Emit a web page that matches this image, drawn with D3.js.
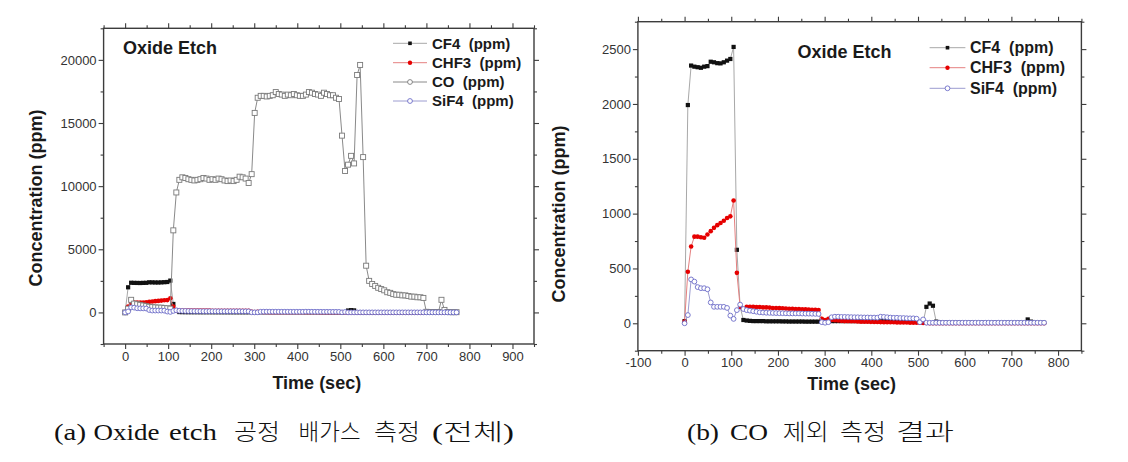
<!DOCTYPE html>
<html><head><meta charset="utf-8">
<script src="https://cdn.jsdelivr.net/npm/d3@7"></script>
<style>body{margin:0;background:#fff}svg{display:block}</style>
</head><body>
<svg id="c" width="1128" height="462"></svg>
<script>
// ---------- data ----------
const times = [0,7,14,21,28,35,42,49,56,63,
70,77,84,91,98,105,112,119,126,133,
140,147,154,161,168,175,182,189,196,203,
210,217,224,231,238,245,252,259,266,273,
280,287,294,301,308,315,322,329,336,343,
350,357,364,371,378,385,392,399,406,413,
420,427,434,441,448,455,462,469,476,483,
490,497,504,511,518,525,532,539,546,553,
560,567,574,581,588,595,602,609,616,623,
630,637,644,651,658,665,672,679,686,693,
700,707,714,721,728,735,742,749,756,763,
770];
const cf4 = [20,1990,2350,2340,2335,2330,2340,2345,2385,2380,
2372,2370,2380,2395,2410,2520,670,150,30,25,
22,20,20,20,20,18,18,18,18,18,
17,17,16,16,16,16,16,15,15,15,
15,15,30,25,20,20,20,20,20,20,
20,20,20,20,20,20,20,20,20,20,
18,18,18,18,18,18,18,15,15,15,
15,15,12,10,150,180,160,15,8,5,
5,5,5,5,5,5,5,5,5,5,
5,5,5,5,5,5,5,5,5,5,
5,5,5,5,5,35,15,5,5,5,
5];
const chf3 = [15,470,700,790,790,785,780,810,840,870,
895,915,935,960,975,1120,460,150,130,150,
150,150,148,148,145,145,143,140,140,138,
137,135,133,132,130,130,128,127,125,123,
122,120,40,30,40,30,28,25,22,20,
20,18,18,16,15,15,14,13,12,12,
11,10,10,9,9,8,8,7,7,6,
6,5,5,3,2,0,0,0,0,0,
0,0,0,0,0,0,0,0,0,0,
0,0,0,0,0,0,0,0,0,0,
0,0,0,0,0,0,0,0,0,0,
0];
const co = [0,300,1000,700,650,600,550,500,450,420,
400,380,380,350,330,300,6500,9500,10500,10700,
10650,10550,10500,10450,10500,10550,10650,10600,10500,10550,
10500,10600,10550,10450,10400,10450,10400,10500,10750,10700,
10600,10250,10950,15800,17000,17150,17150,17100,17150,17200,
17450,17300,17250,17150,17250,17200,17300,17200,17150,17150,
17250,17450,17400,17300,17250,17150,17400,17300,17200,17200,
17000,16900,14000,11200,11700,12400,11800,18800,19600,12300,
3700,2500,2250,2100,1950,1850,1750,1600,1550,1450,
1400,1400,1350,1350,1300,1250,1250,1200,1200,1150,
50,30,30,30,30,1000,200,30,20,20,
20];
const sif4 = [0,75,400,380,330,320,320,310,190,150,
150,150,150,140,70,40,120,170,130,120,
115,110,105,100,98,96,95,94,93,92,
92,91,90,90,90,90,89,88,88,87,
86,85,10,5,10,55,60,60,58,58,
57,56,55,55,54,53,53,52,52,51,
60,58,55,52,50,50,48,48,46,45,
45,42,10,35,5,5,5,5,5,5,
5,5,5,5,5,5,5,5,5,5,
5,5,5,5,5,5,5,5,5,5,
5,5,5,5,5,5,5,5,5,5,
5];
const namesA = ["CF4  (ppm)","CHF3  (ppm)","CO  (ppm)","SiF4  (ppm)"];
const namesB = ["CF4  (ppm)","CHF3  (ppm)","SiF4  (ppm)"];
const xTicksA = [0,100,200,300,400,500,600,700,800,900];
const yTicksA = [0,5000,10000,15000,20000];
const xTicksB = [-100,0,100,200,300,400,500,600,700,800];
const yTicksB = [0,500,1000,1500,2000,2500];
const title = "Oxide Etch";
const xTitle = "Time (sec)";
const yTitle = "Concentration (ppm)";
const captionA = ["(a)","Oxide","etch","공정","배가스","측정","(전체)"];
const captionB = ["(b)","CO","제외","측정","결과"];

// ---------- styles ----------
const styles = {
  "CF4":  {line:"#a8a8a8", shape:"sq", fill:"#111", stroke:"none", size:4.2, leg:3.6},
  "CHF3": {line:"#e58080", shape:"ci", fill:"#e60000", stroke:"none", size:2.3, leg:2.2},
  "CO":   {line:"#8a8a8a", shape:"sq", fill:"#fff", stroke:"#7a7a7a", size:5, leg:2.4, legShape:"ci"},
  "SiF4": {line:"#9c9cd0", shape:"ci", fill:"#fff", stroke:"#6c6cc8", size:2.4, leg:2.4}
};
const svg = d3.select("#c");
const SANS = "'Liberation Sans', Arial, sans-serif";

function drawMarker(g, shape, cx, cy, st, size){
  if(shape==="sq"){
    g.append("rect").attr("x",cx-size/2).attr("y",cy-size/2)
     .attr("width",size).attr("height",size)
     .attr("fill",st.fill).attr("stroke",st.stroke).attr("stroke-width",0.9);
  } else {
    g.append("circle").attr("cx",cx).attr("cy",cy).attr("r",size)
     .attr("fill",st.fill).attr("stroke",st.stroke).attr("stroke-width",0.9);
  }
}

function panel(cfg){
  const x = d3.scaleLinear().domain(cfg.xDomain).range([cfg.left,cfg.right]);
  const y = d3.scaleLinear().domain(cfg.yDomain).range([cfg.bottom,cfg.top]);
  const g = svg.append("g");
  const axisCol = "#3c3c3c";
  const xMinor = d3.range(cfg.xDomain[0], cfg.xDomain[1]+1, 50).filter(v=>!cfg.xTicks.includes(v));
  const yMinor = d3.range(cfg.yMinorStart, cfg.yDomain[1]+1, cfg.yMinorStep).filter(v=>!cfg.yTicks.includes(v));
  const fmt = v => String(v);
  function ax(gen, tr, ticks, size, labels, pad){
    const a = g.append("g").attr("transform",tr).style("color",axisCol)
      .call(gen.tickValues(ticks).tickSize(size).tickPadding(pad).tickFormat(labels?fmt:""));
    a.select(".domain").remove();
    a.selectAll("line").attr("stroke-width",1.1);
    a.selectAll("text").attr("fill","#333").style("font-family",SANS).style("font-size","13px");
    return a;
  }
  ax(d3.axisBottom(x), `translate(0,${cfg.bottom})`, cfg.xTicks, 5, true, cfg.xPad);
  ax(d3.axisBottom(x), `translate(0,${cfg.bottom})`, xMinor, 3, false, 3);
  ax(d3.axisTop(x), `translate(0,${cfg.top})`, cfg.xTicks, 5, false, 3);
  ax(d3.axisTop(x), `translate(0,${cfg.top})`, xMinor, 3, false, 3);
  ax(d3.axisLeft(y), `translate(${cfg.left},0)`, cfg.yTicks, 5, true, 2);
  ax(d3.axisLeft(y), `translate(${cfg.left},0)`, yMinor, 3, false, 3);
  ax(d3.axisRight(y), `translate(${cfg.right},0)`, cfg.yTicks, 5, false, 3);
  ax(d3.axisRight(y), `translate(${cfg.right},0)`, yMinor, 3, false, 3);
  g.append("rect").attr("x",cfg.left).attr("y",cfg.top)
   .attr("width",cfg.right-cfg.left).attr("height",cfg.bottom-cfg.top)
   .attr("fill","none").attr("stroke",axisCol).attr("stroke-width",1.4);

  // series
  const line = d3.line().x(d=>x(d[0])).y(d=>y(d[1]));
  cfg.series.forEach(s=>{
    const st = styles[s.key];
    const pts = times.map((t,i)=>[t,s.values[i]]);
    g.append("path").attr("d",line(pts)).attr("fill","none")
     .attr("stroke",st.line).attr("stroke-width",1);
    const mg = g.append("g");
    pts.forEach(p=>drawMarker(mg, st.shape, x(p[0]), y(p[1]), st, st.size));
  });

  // title
  g.append("text").attr("x",cfg.titleX).attr("y",cfg.titleY).text(title)
   .style("font-family",SANS).style("font-weight","bold").style("font-size","18px").attr("fill","#1a1a1a");
  // legend
  cfg.series.forEach((s,i)=>{
    const st = styles[s.key];
    const cy = cfg.legY[i];
    g.append("line").attr("x1",cfg.legX0).attr("x2",cfg.legX1).attr("y1",cy).attr("y2",cy)
     .attr("stroke",st.line).attr("stroke-width",1);
    drawMarker(g, st.legShape||st.shape, (cfg.legX0+cfg.legX1)/2, cy, st, st.leg);
    g.append("text").attr("x",cfg.legTextX).attr("y",cy+cfg.legFont*0.36).text(s.name)
     .style("font-family",SANS).style("font-weight","bold").style("font-size",cfg.legFont+"px")
     .style("white-space","pre").attr("xml:space","preserve").attr("fill","#1a1a1a");
  });
  // axis titles
  g.append("text").attr("x",(cfg.left+cfg.right)/2+cfg.xtDx).attr("y",cfg.xtY).attr("text-anchor","middle")
   .text(xTitle).style("font-family",SANS).style("font-weight","bold").style("font-size","18px").attr("fill","#1a1a1a");
  g.append("text").attr("transform",`translate(${cfg.ytX},${cfg.ytY}) rotate(-90)`).attr("text-anchor","middle")
   .text(yTitle).style("font-family",SANS).style("font-weight","bold").style("font-size","18px").attr("fill","#1a1a1a");
}

panel({
  left:103.6, right:534, top:28.3, bottom:344,
  xDomain:[-50,950], yDomain:[-2500,22500], yMinorStart:-2500, yMinorStep:2500,
  xTicks:xTicksA, yTicks:yTicksA, xPad:3,
  series:[{key:"CF4",name:namesA[0],values:cf4},{key:"CHF3",name:namesA[1],values:chf3},
          {key:"CO",name:namesA[2],values:co},{key:"SiF4",name:namesA[3],values:sif4}],
  titleX:123, titleY:54,
  legX0:393, legX1:427, legTextX:432, legY:[43.3,62.7,82,101], legFont:15,
  xtDx:-2, xtY:389, ytX:42, ytY:198
});
panel({
  left:637.9, right:1081.4, top:21.7, bottom:350.7,
  xDomain:[-100,850], yDomain:[-250,2750], yMinorStart:-250, yMinorStep:250,
  xTicks:xTicksB, yTicks:yTicksB, xPad:2,
  series:[{key:"CF4",name:namesB[0],values:cf4},{key:"CHF3",name:namesB[1],values:chf3},
          {key:"SiF4",name:namesB[2],values:sif4}],
  titleX:797.5, titleY:58,
  legX0:929.6, legX1:965.4, legTextX:970, legY:[47.7,67.7,88.3], legFont:16,
  xtDx:-8, xtY:390, ytX:565, ytY:214
});

// captions
const capPos = [[54,32],[93.5,66],[169,48],[234,46],[298.6,62],[374,46],[432,82]];
const capPosB = [[687,32],[730,38],[782.7,46],[840,46],[896,58]];
function caption(words,pos){
  words.forEach((w,i)=>{
    svg.append("text").attr("x",pos[i][0]).attr("y",440).text(w)
      .attr("textLength",pos[i][1]).attr("lengthAdjust","spacingAndGlyphs")
      .style("font-family","'Liberation Serif','Noto Sans CJK KR',serif").style("font-size","23px")
      .style("font-weight","300").attr("fill","#111");
  });
}
caption(captionA,capPos);
caption(captionB,capPosB);
</script>
</body></html>
